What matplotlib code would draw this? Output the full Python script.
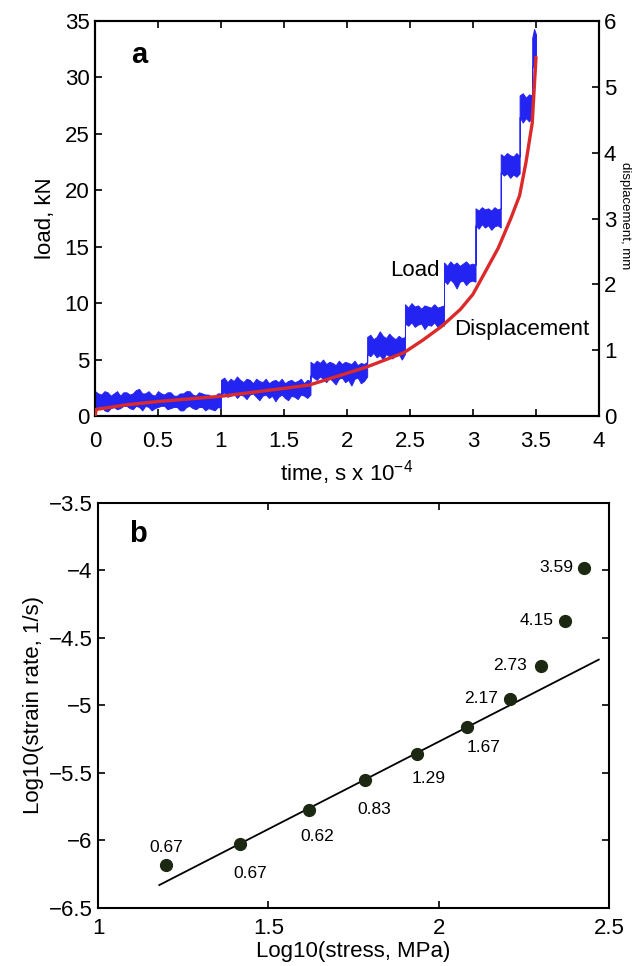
import numpy as np
import matplotlib
matplotlib.use("Agg")
import matplotlib.pyplot as plt
from matplotlib.ticker import FuncFormatter

plt.rcParams['font.family'] = ['Liberation Sans', 'DejaVu Sans']
plt.rcParams['mathtext.fontset'] = 'custom'
plt.rcParams['mathtext.rm'] = 'Liberation Sans'
plt.rcParams['mathtext.it'] = 'Liberation Sans:italic'
plt.rcParams['mathtext.bf'] = 'Liberation Sans:bold'

# ---------------- panel a: creep test record ----------------
# load held at constant steps (time in units of 1e4 s, load in kN);
# the noisy load trace is described by its upper/lower envelope per step
step_start = [0.00, 1.00, 1.71, 2.16, 2.46, 2.77, 3.02, 3.22, 3.37, 3.47]
step_end = [1.00, 1.71, 2.16, 2.46, 2.77, 3.02, 3.22, 3.37, 3.47, 3.50]
step_hi = [
    [2.2, 2.0, 1.9, 2.2, 2.1, 1.8, 2.0, 2.2, 1.8, 2.1, 2.1, 1.9, 2.0, 2.3, 2.4, 2.0, 2.0, 2.2, 1.9, 1.8,
     2.2, 2.0, 1.9, 2.1, 2.1, 1.8, 1.8, 2.0, 2.0, 2.2, 2.2, 1.9, 1.8, 2.1, 2.0, 1.9, 1.9, 1.7, 1.8, 2.0, 2.0],
    [3.2, 3.4, 3.0, 3.3, 3.1, 3.5, 3.2, 3.0, 3.3, 3.2, 2.9, 3.3, 3.1, 3.0, 3.3, 2.9, 3.1, 3.2, 3.0, 3.3,
     2.9, 3.1, 3.2, 3.0, 3.1, 3.3, 2.9, 3.2, 3.1],
    [4.8, 4.6, 4.9, 4.7, 5.0, 4.6, 4.8, 4.7, 4.5, 4.9, 4.6, 4.8, 4.7, 4.6, 4.9, 4.5, 4.7, 4.6, 4.8],
    [7.0, 7.2, 6.8, 7.0, 7.5, 7.1, 6.9, 7.3, 7.0, 6.8, 7.1, 6.9, 7.0],
    [9.9, 9.6, 10.0, 9.7, 9.8, 9.5, 9.8, 9.7, 9.6, 9.9, 9.6, 9.7, 9.8],
    [13.6, 13.3, 13.7, 13.4, 13.6, 13.3, 13.5, 13.7, 13.4, 13.5, 13.4],
    [18.4, 18.2, 18.5, 18.3, 18.4, 18.2, 18.5, 18.3, 18.4],
    [23.2, 23.0, 23.3, 23.1, 23.0, 23.3, 23.0],
    [28.4, 28.6, 28.2, 28.5, 28.4],
    [33.5, 34.3, 33.8],
]
step_lo = [
    [0.6, 0.8, 0.9, 0.5, 0.4, 0.7, 0.8, 0.6, 0.7, 0.9, 0.9, 0.7, 0.6, 0.9, 0.8, 0.5, 0.9, 0.8, 0.5, 0.7,
     0.8, 0.9, 0.9, 0.6, 0.7, 0.8, 0.8, 0.5, 0.5, 0.8, 0.9, 0.7, 0.6, 0.8, 0.8, 0.5, 0.7, 0.6, 0.5, 0.8, 0.7],
    [1.9, 2.1, 1.7, 1.8, 2.0, 1.6, 1.9, 1.8, 1.5, 1.9, 2.0, 1.7, 1.4, 1.8, 1.9, 1.6, 1.8, 1.3, 1.7, 1.9,
     1.6, 1.4, 1.8, 1.7, 1.5, 1.9, 1.8, 1.6, 1.9],
    [3.6, 3.4, 3.2, 3.5, 3.3, 3.0, 3.4, 3.1, 2.8, 3.3, 3.4, 3.0, 3.2, 2.7, 3.3, 3.4, 2.9, 3.1, 3.5],
    [5.5, 5.3, 5.6, 5.2, 5.4, 5.0, 5.5, 5.3, 5.1, 5.4, 5.5, 5.0, 5.5],
    [8.2, 8.0, 8.3, 7.9, 8.1, 8.2, 7.7, 8.1, 8.0, 8.3, 7.9, 8.2, 8.0],
    [12.0, 11.7, 12.1, 11.8, 11.3, 11.9, 12.0, 11.6, 11.9, 12.0, 11.9],
    [16.9, 16.6, 17.0, 16.7, 16.9, 16.5, 16.8, 16.9, 16.7],
    [21.6, 21.3, 21.5, 21.1, 21.4, 21.2, 21.5],
    [26.5, 26.0, 26.4, 26.1, 26.6],
    [30.8, 31.5, 31.2],
]

# displacement (mm) on the right-hand axis
disp_t = [0.00, 0.01, 0.25, 0.50, 0.75, 1.00, 1.25, 1.50, 1.70, 1.85, 2.00, 2.15, 2.30,
          2.45, 2.60, 2.75, 2.90, 3.00, 3.10, 3.20, 3.30, 3.37, 3.42, 3.47, 3.50]
disp_mm = [0.00, 0.10, 0.17, 0.22, 0.26, 0.30, 0.36, 0.42, 0.47, 0.56, 0.65, 0.74, 0.85,
           0.96, 1.15, 1.36, 1.62, 1.85, 2.20, 2.55, 3.00, 3.35, 3.85, 4.45, 5.45]

# ---------------- panel b: strain rate vs stress ----------------
log_stress = [1.20, 1.418, 1.618, 1.783, 1.937, 2.084, 2.208, 2.300, 2.370, 2.428]
log_rate = [-6.18, -6.026, -5.774, -5.552, -5.359, -5.162, -4.949, -4.707, -4.372, -3.979]
point_labels = ['0.67', '0.67', '0.62', '0.83', '1.29', '1.67', '2.17', '2.73', '4.15', '3.59']
fit_x = [1.18, 2.47]
fit_y = [-6.33, -4.66]

# label placement for each point: (dx, dy) in points, horizontal alignment
label_place = [((0, 12.5), 'center'), ((7, -21), 'center'), ((6.5, -19), 'center'),
               ((7, -21.5), 'center'), ((8, -17.5), 'center'), ((11.5, -14.7), 'center'),
               ((-8, 0), 'right'), ((-10, 0), 'right'), ((-8, 0), 'right'), ((-8, 0), 'right')]

BLUE = '#2424f2'
RED = '#dc2a2a'
DOT = '#1c2812'
FS = 16


def fmt_g(v, _pos):
    return ('%g' % v).replace('-', '\u2212')


def style_axes(ax):
    for s in ax.spines.values():
        s.set_linewidth(1.5)
    ax.tick_params(which='both', direction='in', length=5, width=1.2, labelsize=FS)


# assemble the stepped load envelope
load_t, load_hi, load_lo = [], [], []
for t0, t1, hi, lo in zip(step_start, step_end, step_hi, step_lo):
    load_t.extend(np.linspace(t0, t1, len(hi)))
    load_hi.extend(hi)
    load_lo.extend(lo)

fig = plt.figure(figsize=(6.32, 9.66), dpi=100)

# panel a
ax_a = fig.add_axes([95 / 632, 1 - 416 / 966, 504 / 632, 395 / 966])
style_axes(ax_a)
ax_a.fill_between(load_t, load_lo, load_hi, color=BLUE, linewidth=0.7, edgecolor=BLUE, zorder=2)
ax_a.set_xlim(0, 4)
ax_a.set_ylim(0, 35)
ax_a.set_xticks(np.arange(0, 4.01, 0.5))
ax_a.set_yticks(np.arange(0, 35.1, 5))
ax_a.xaxis.set_major_formatter(FuncFormatter(fmt_g))
ax_a.yaxis.set_major_formatter(FuncFormatter(fmt_g))
ax_a.tick_params(axis='x', top=True, pad=11)
ax_a.tick_params(axis='y', left=True, right=False, pad=4)
ax_a.set_xlabel(r'time, s x 10$^{-4}$', fontsize=FS, labelpad=4)
ax_a.set_ylabel('load, kN', fontsize=FS, labelpad=6)
ax_a.text(0.35, 31.3, 'a', fontsize=21, fontweight='bold', ha='center', va='baseline')
ax_a.text(2.54, 12.4, 'Load', fontsize=FS, ha='center', va='baseline')
ax_a.text(3.39, 7.17, 'Displacement', fontsize=FS, ha='center', va='baseline')

ax_d = ax_a.twinx()
ax_d.plot(disp_t, disp_mm, color=RED, linewidth=2.4, solid_capstyle='round', zorder=3)
ax_d.set_ylim(0, 6)
ax_d.set_yticks(np.arange(0, 6.1, 1))
ax_d.yaxis.set_major_formatter(FuncFormatter(fmt_g))
for s in ax_d.spines.values():
    s.set_linewidth(1.5)
ax_d.tick_params(axis='y', direction='in', length=5, width=1.2, labelsize=FS, pad=3.5)
fig.text(1 - 1 / 632, 1 - 216 / 966, 'displacement, mm', rotation=270, fontsize=9.5,
         ha='right', va='center')

# panel b
ax_b = fig.add_axes([98 / 632, 1 - 908 / 966, 511 / 632, 405 / 966])
style_axes(ax_b)
ax_b.plot(fit_x, fit_y, color='black', linewidth=1.3, zorder=2)
ax_b.plot(log_stress, log_rate, 'o', color=DOT, markersize=8.5, zorder=3)
for x, y, lab, ((dx, dy), ha) in zip(log_stress, log_rate, point_labels, label_place):
    ax_b.annotate(lab, (x, y), xytext=(dx, dy), textcoords='offset points',
                  ha=ha, va='center', fontsize=12.5)
ax_b.set_xlim(1, 2.5)
ax_b.set_ylim(-6.5, -3.5)
ax_b.set_xticks(np.arange(1, 2.51, 0.5))
ax_b.set_yticks(np.arange(-6.5, -3.49, 0.5))
ax_b.xaxis.set_major_formatter(FuncFormatter(fmt_g))
ax_b.yaxis.set_major_formatter(FuncFormatter(fmt_g))
ax_b.tick_params(axis='x', top=True, pad=7)
ax_b.tick_params(axis='y', right=True, pad=4)
ax_b.set_xlabel('Log10(stress, MPa)', fontsize=FS, labelpad=2)
ax_b.set_ylabel('Log10(strain rate, 1/s)', fontsize=FS, labelpad=3)
ax_b.text(1.118, -3.787, 'b', fontsize=21, fontweight='bold', ha='center', va='baseline')

fig.savefig('out.png', dpi=100)
